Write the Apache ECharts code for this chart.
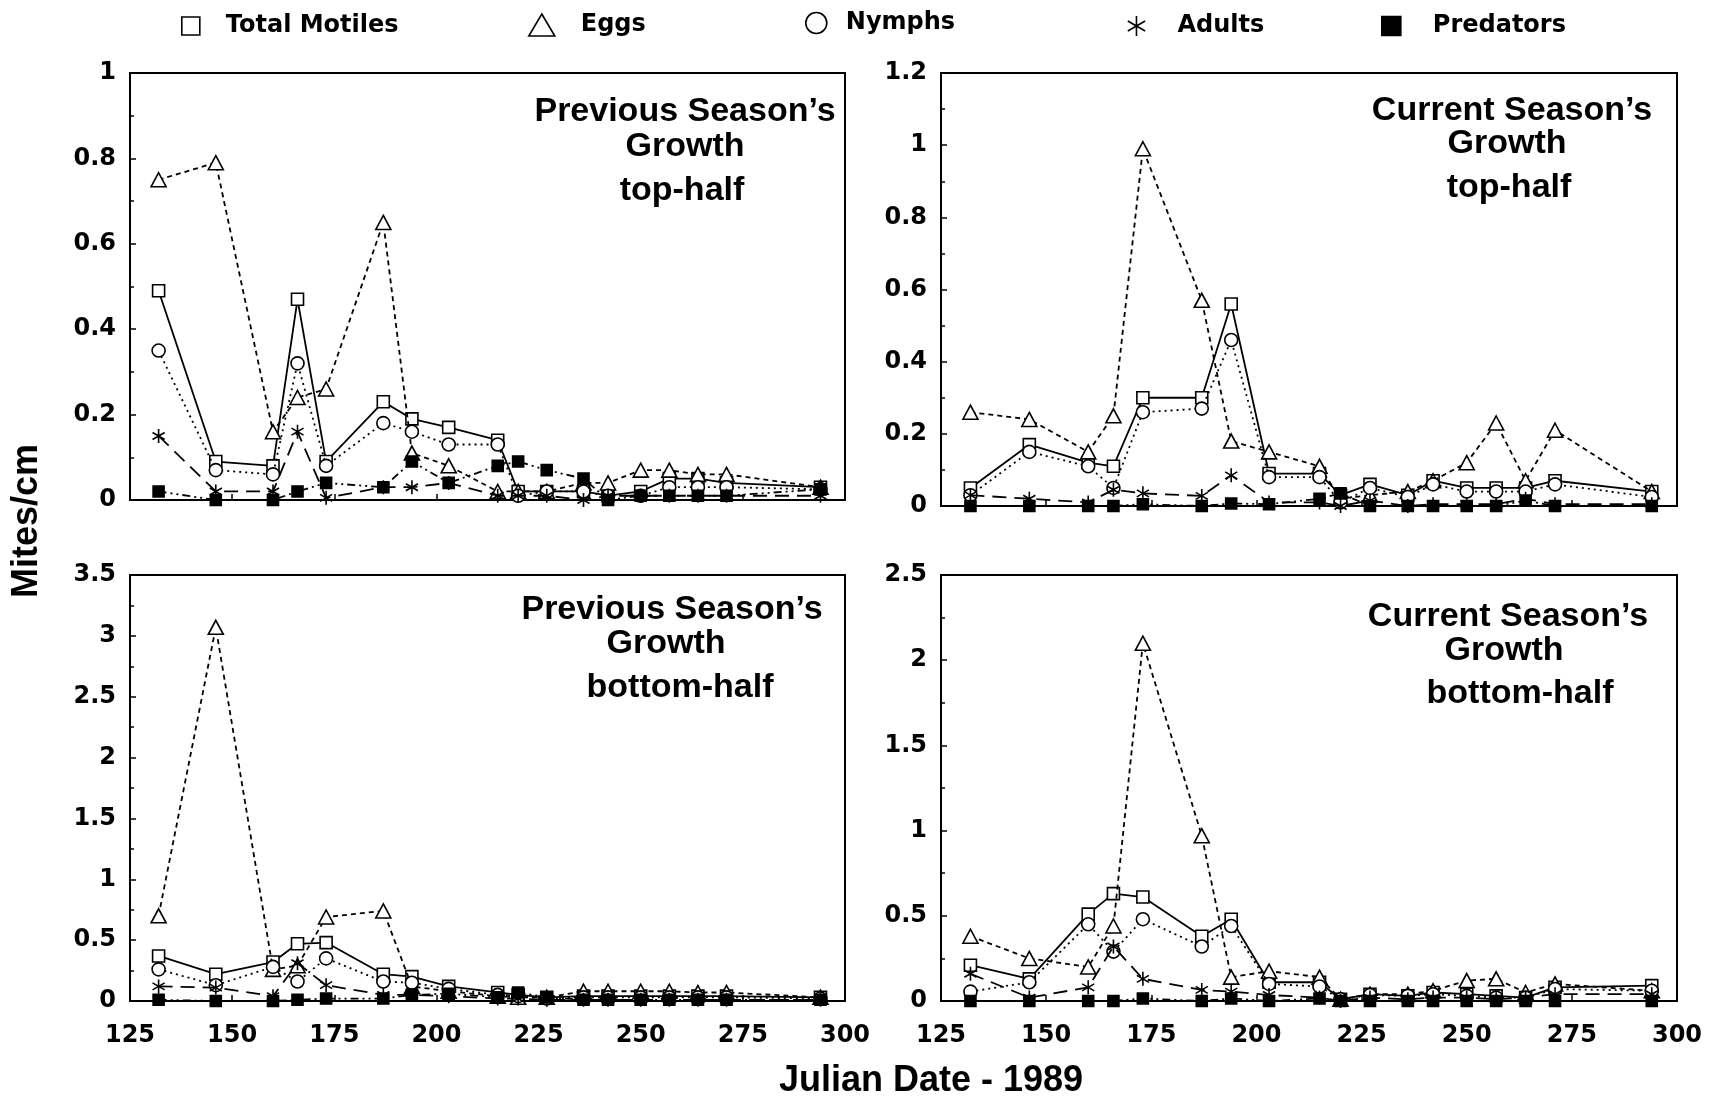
<!DOCTYPE html>
<html>
<head>
<meta charset="utf-8">
<script src="https://cdn.jsdelivr.net/npm/echarts@6/dist/echarts.min.js"></script>
<style>
  html, body { margin: 0; padding: 0; background: #fff; }
  #main { width: 1721px; height: 1100px; }
</style>
</head>
<body>
<div id="main"></div>
<script>
// Julian dates of the samplings (same for every panel)
var dates = [132, 146, 160, 166, 173, 187, 194, 203, 215, 220, 227, 236, 242, 250, 257, 264, 271, 294];
var seriesNames = ['Total Motiles', 'Eggs', 'Nymphs', 'Adults', 'Predators'];

// previous season's growth, top-half
var prevTopMotiles  = [0.49, 0.09, 0.08, 0.47, 0.09, 0.23, 0.19, 0.17, 0.14, 0.02, 0.02, 0.02, 0.01, 0.02, 0.05, 0.05, 0.04, 0.03];
var prevTopEggs     = [0.75, 0.79, 0.16, 0.24, 0.26, 0.65, 0.11, 0.08, 0.02, 0.02, 0.02, 0.04, 0.04, 0.07, 0.07, 0.06, 0.06, 0.03];
var prevTopNymphs   = [0.35, 0.07, 0.06, 0.32, 0.08, 0.18, 0.16, 0.13, 0.13, 0.01, 0.02, 0.02, 0.01, 0.01, 0.03, 0.03, 0.03, 0.025];
var prevTopAdults   = [0.15, 0.02, 0.02, 0.16, 0.005, 0.03, 0.03, 0.04, 0.01, 0.01, 0.01, 0.0, 0.01, 0.01, 0.01, 0.01, 0.01, 0.01];
var prevTopPred     = [0.02, 0.0, 0.0, 0.02, 0.04, 0.03, 0.09, 0.04, 0.08, 0.09, 0.07, 0.05, 0.0, 0.01, 0.01, 0.01, 0.01, 0.025];

// current season's growth, top-half
var currTopMotiles  = [0.05, 0.17, 0.12, 0.11, 0.30, 0.30, 0.56, 0.09, 0.09, 0.03, 0.06, 0.03, 0.07, 0.05, 0.05, 0.05, 0.07, 0.04];
var currTopEggs     = [0.26, 0.24, 0.15, 0.25, 0.99, 0.57, 0.18, 0.15, 0.11, 0.02, 0.03, 0.04, 0.07, 0.12, 0.23, 0.07, 0.21, 0.04];
var currTopNymphs   = [0.03, 0.15, 0.11, 0.05, 0.26, 0.27, 0.46, 0.08, 0.08, 0.01, 0.05, 0.025, 0.06, 0.04, 0.04, 0.04, 0.06, 0.025];
var currTopAdults   = [0.03, 0.02, 0.01, 0.045, 0.035, 0.028, 0.085, 0.01, 0.01, 0.0, 0.015, 0.0, 0.005, 0.005, 0.005, 0.02, 0.005, 0.005];
var currTopPred     = [0, 0, 0, 0, 0.005, 0, 0.007, 0.005, 0.02, 0.035, 0, 0, 0, 0, 0, 0.015, 0, 0];

// previous season's growth, bottom-half
var prevBotMotiles  = [0.37, 0.22, 0.32, 0.47, 0.48, 0.22, 0.20, 0.12, 0.07, 0.05, 0.03, 0.04, 0.04, 0.04, 0.04, 0.04, 0.04, 0.03];
var prevBotEggs     = [0.70, 3.07, 0.26, 0.29, 0.69, 0.74, 0.12, 0.08, 0.04, 0.03, 0.03, 0.08, 0.08, 0.08, 0.08, 0.07, 0.07, 0.03];
var prevBotNymphs   = [0.26, 0.13, 0.28, 0.16, 0.35, 0.16, 0.15, 0.10, 0.05, 0.04, 0.02, 0.03, 0.03, 0.03, 0.03, 0.03, 0.03, 0.02];
var prevBotAdults   = [0.12, 0.11, 0.04, 0.31, 0.13, 0.05, 0.05, 0.04, 0.02, 0.02, 0.01, 0.01, 0.01, 0.01, 0.01, 0.01, 0.01, 0.01];
var prevBotPred     = [0.01, 0.0, 0.0, 0.01, 0.02, 0.02, 0.05, 0.06, 0.03, 0.07, 0.03, 0.01, 0.01, 0.01, 0.01, 0.01, 0.01, 0.01];

// current season's growth, bottom-half
var currBotMotiles  = [0.21, 0.13, 0.51, 0.63, 0.61, 0.38, 0.48, 0.11, 0.11, 0.01, 0.04, 0.03, 0.05, 0.04, 0.03, 0.02, 0.08, 0.09];
var currBotEggs     = [0.38, 0.25, 0.20, 0.44, 2.10, 0.97, 0.14, 0.175, 0.14, 0.01, 0.04, 0.04, 0.06, 0.12, 0.13, 0.05, 0.10, 0.06];
var currBotNymphs   = [0.055, 0.11, 0.45, 0.29, 0.48, 0.32, 0.44, 0.10, 0.085, 0.01, 0.035, 0.03, 0.04, 0.03, 0.02, 0.02, 0.07, 0.06];
var currBotAdults   = [0.16, 0.02, 0.08, 0.32, 0.13, 0.065, 0.055, 0.035, 0.02, 0.0, 0.02, 0.01, 0.02, 0.02, 0.01, 0.02, 0.04, 0.04];
var currBotPred     = [0, 0, 0, 0, 0.015, 0, 0.015, 0, 0.015, 0, 0, 0, 0, 0, 0, 0, 0, 0];

var FONT = '"DejaVu Sans", sans-serif';
var FONT2 = '"Liberation Sans", Arial, sans-serif';
var starPath = 'path://M10,0 L10,20 M1.34,5 L18.66,15 M1.34,15 L18.66,5';

// marker / line look per series
var styles = [
  { symbol: 'rect', size: 12, dash: 'solid', width: 1.8, fill: '#fff' },
  { symbol: 'triangle', size: [15, 14], dash: [5, 4], width: 1.8, fill: '#fff' },
  { symbol: 'circle', size: 13, dash: [2, 4], width: 1.8, fill: '#fff' },
  { symbol: starPath, size: 14, dash: [14, 8], width: 1.8, fill: 'transparent' },
  { symbol: 'rect', size: 11, dash: [8, 4, 2, 4, 2, 4], width: 1.8, fill: '#000' }
];

var panels = [
  { grid: { left: 130, top: 73, width: 715, height: 427 }, max: 1, step: 0.2, labels: false,
    title: ['Previous Season\u2019s', 'Growth', 'top-half'], tx: [685, 685, 682], ty: [112, 147, 191],
    data: [prevTopMotiles, prevTopEggs, prevTopNymphs, prevTopAdults, prevTopPred] },
  { grid: { left: 941, top: 73, width: 736, height: 433 }, max: 1.2, step: 0.2, labels: false,
    title: ['Current Season\u2019s', 'Growth', 'top-half'], tx: [1512, 1507, 1509], ty: [111, 144, 188],
    data: [currTopMotiles, currTopEggs, currTopNymphs, currTopAdults, currTopPred] },
  { grid: { left: 130, top: 575, width: 715, height: 426 }, max: 3.5, step: 0.5, labels: true,
    title: ['Previous Season\u2019s', 'Growth', 'bottom-half'], tx: [672, 666, 680], ty: [610, 644, 688],
    data: [prevBotMotiles, prevBotEggs, prevBotNymphs, prevBotAdults, prevBotPred] },
  { grid: { left: 941, top: 575, width: 736, height: 426 }, max: 2.5, step: 0.5, labels: true,
    title: ['Current Season\u2019s', 'Growth', 'bottom-half'], tx: [1508, 1504, 1520], ty: [617, 651, 694],
    data: [currBotMotiles, currBotEggs, currBotNymphs, currBotAdults, currBotPred] }
];

var grids = [], xAxes = [], yAxes = [], series = [], graphics = [];

panels.forEach(function (p, pi) {
  grids.push(Object.assign({ show: true, borderColor: '#000', borderWidth: 2, backgroundColor: 'transparent' }, p.grid));
  xAxes.push({
    type: 'value', gridIndex: pi, min: 125, max: 300, interval: 25,
    axisLine: { lineStyle: { color: '#000', width: 2 } },
    axisTick: { inside: true, length: 6, lineStyle: { color: '#000', width: 1.5 } },
    axisLabel: { show: p.labels, color: '#000', fontFamily: FONT, fontWeight: 'bold', fontSize: 24, margin: 23 },
    splitLine: { show: false }
  });
  yAxes.push({
    type: 'value', gridIndex: pi, min: 0, max: p.max, interval: p.step,
    axisLine: { show: true, lineStyle: { color: '#000', width: 2 } },
    axisTick: { show: true, inside: true, length: 6, lineStyle: { color: '#000', width: 1.5 } },
    minorTick: { show: true, splitNumber: 2, length: 4, lineStyle: { color: '#000', width: 1.5 } },
    axisLabel: { color: '#000', fontFamily: FONT, fontWeight: 'bold', fontSize: 24, margin: 14 },
    splitLine: { show: false }
  });
  p.data.forEach(function (vals, si) {
    var st = styles[si];
    series.push({
      name: seriesNames[si], type: 'line', xAxisIndex: pi, yAxisIndex: pi,
      data: dates.map(function (d, k) { return [d, vals[k]]; }),
      symbol: st.symbol, symbolSize: st.size, symbolKeepAspect: true, showAllSymbol: true,
      lineStyle: { color: '#000', width: st.width, type: st.dash },
      itemStyle: { color: st.fill, borderColor: '#000', borderWidth: 1.6 },
      emphasis: { disabled: true },
      z: 2 + si
    });
  });
  p.title.forEach(function (t, li) {
    graphics.push({
      type: 'text', x: p.tx[li], y: p.ty[li], z: 100,
      style: { text: t, x: 0, y: 0, align: 'center', verticalAlign: 'middle',
        font: 'bold 34px ' + FONT2, fill: '#000' }
    });
  });
});

// legend along the top
var legendIcons = ['rect', 'triangle', 'circle', starPath, 'rect'];
var legendFill = ['#fff', '#fff', '#fff', 'transparent', '#000'];
var legendLeft = [181, 528, 805, 1127, 1381];
var legendTop = [14, 13, 11, 14, 14];
var legendW = [18, 26, 21, 20, 19];
var legendH = [18, 22, 21, 20, 19];
var legendPad = [21, 21, 14, 26, 27];
var legends = seriesNames.map(function (n, i) {
  return {
    data: [{ name: n, icon: legendIcons[i],
      itemStyle: { color: legendFill[i], borderColor: '#000', borderWidth: 1.6 } }],
    left: legendLeft[i], top: legendTop[i], itemWidth: legendW[i], itemHeight: legendH[i],
    selectedMode: false, padding: 0,
    textStyle: { color: '#000', fontFamily: FONT, fontWeight: 'bold', fontSize: 24, padding: [0, 0, 0, legendPad[i]] }
  };
});

// axis titles
graphics.push({
  type: 'text', x: 931, y: 1081,
  style: { text: 'Julian Date - 1989', x: 0, y: 0, align: 'center', verticalAlign: 'middle', font: 'bold 36px ' + FONT2, fill: '#000' }
});
graphics.push({
  type: 'text', x: 27, y: 521, rotation: Math.PI / 2,
  style: { text: 'Mites/cm', x: 0, y: 0, align: 'center', verticalAlign: 'middle', font: 'bold 36px ' + FONT2, fill: '#000' }
});

var chart = echarts.init(document.getElementById('main'));
chart.setOption({
  animation: false,
  backgroundColor: '#fff',
  legend: legends,
  grid: grids,
  xAxis: xAxes,
  yAxis: yAxes,
  series: series,
  graphic: graphics
});
</script>
</body>
</html>
